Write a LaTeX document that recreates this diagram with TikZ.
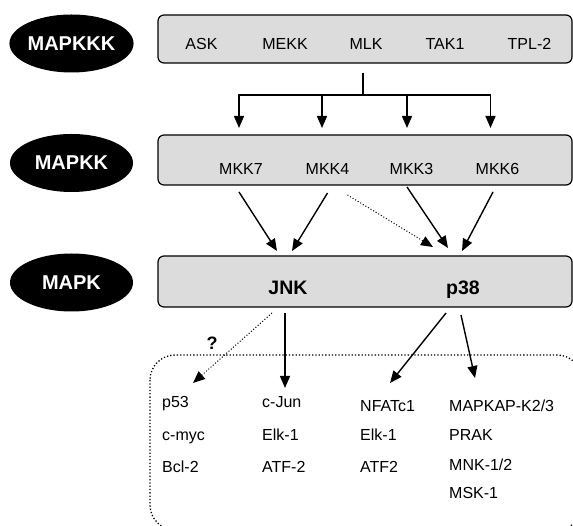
\documentclass[tikz,border=0pt]{standalone}
\usepackage{fontspec}
\setmainfont{Liberation Sans}
\usetikzlibrary{shapes.geometric, arrows.meta, positioning, calc}
\definecolor{bandgray}{RGB}{220,220,220}

\begin{document}
\begin{tikzpicture}[
  x=1pt, y=-1pt,
  node distance=32pt,
  level/.style={ellipse,fill=black,text=white,inner sep=0pt,minimum width=123pt,minimum height=58pt,font=\fontsize{20}{22}\selectfont\bfseries},
  band/.style={draw,rounded corners=6pt,fill=bandgray,line width=1.2pt,minimum width=414pt,inner sep=0pt},
  kinase/.style={anchor=base,inner sep=0pt,font=\fontsize{16}{18}\selectfont},
  mapk/.style={anchor=base,inner sep=0pt,font=\fontsize{19.5}{22}\selectfont\bfseries},
  target/.style={anchor=base west,inner sep=0pt,font=\fontsize{16}{18}\selectfont},
  link/.style={line width=1.4pt},
  arrow/.style={-{Triangle[length=12pt,width=10pt]},line width=1.4pt},
  maybe/.style={-{Triangle[length=12pt,width=10pt]},line width=1pt,dotted}
]
  \useasboundingbox (0,0) rectangle (573,526);

  % the three levels
  \node[level] (mapkkk) at (71.5,43.5) {MAPKKK};
  \node[level] (mapkk) at (71.5,163) {MAPKK};
  \node[level] (mapkl) at (71.5,282.5) {MAPK};

  \node[band,minimum height=48pt] (kkkband) at (365,39) {};
  \node[band,minimum height=50pt] (kkband) at (365,160) {};
  \node[band,minimum height=51pt] (kband) at (365,281.5) {};

  \node[kinase] (ask) at (201.5,50) {ASK};
  \node[kinase] (mekk) at (285,50) {MEKK};
  \node[kinase] (mlk) at (366,50) {MLK};
  \node[kinase] (tak) at (445,50) {TAK1};
  \node[kinase] (tpl) at (529.5,50) {TPL-2};

  \node[kinase] (mkk7) at (241,175) {MKK7};
  \node[kinase] (mkk4) at (327.5,175) {MKK4};
  \node[kinase] (mkk3) at (411.5,175) {MKK3};
  \node[kinase] (mkk6) at (497.5,175) {MKK6};

  \node[mapk] (jnk) at (288,295) {JNK};
  \node[mapk] (p38) at (463,295) {p38};

  % substrates
  \draw[dotted,line width=1.3pt,rounded corners=25pt] (150,355) rectangle (582,530);

  \node[target] (p53) at (162,408) {p53};
  \node[below=of p53.base west,target] (cmyc) {c-myc};
  \node[below=of cmyc.base west,target] (bcl) {Bcl-2};

  \node[target] (cjun) at (262,408) {c-Jun};
  \node[below=of cjun.base west,target] (elkj) {Elk-1};
  \node[below=of elkj.base west,target] (atfj) {ATF-2};

  \node[target] (nfatc1) at (360,412) {NFATc1};
  \node[below=28pt of nfatc1.base west,target] (elkp) {Elk-1};
  \node[below=of elkp.base west,target] (atfp) {ATF2};

  \node[target] (mapkap) at (449,412) {MAPKAP-K2/3};
  \node[below=28pt of mapkap.base west,target] (prak) {PRAK};
  \node[below=30pt of prak.base west,target] (mnk) {MNK-1/2};
  \node[below=28pt of mnk.base west,target] (msk) {MSK-1};

  \node[inner sep=0pt,font=\fontsize{18}{20}\selectfont\bfseries] (query) at (212,343) {?};

  % MAPKKK -> MAPKK
  \coordinate (fork) at ($(mlk.base)+(-3,45)$);
  \draw[link] ($(mlk.base)+(-3,23)$) -- (fork);
  \draw[arrow] (fork) -| ($(mkk7.base)+(-2,-47)$);
  \draw[arrow] (fork) -| ($(mkk4.base)+(-5.5,-47)$);
  \draw[arrow] (fork) -| ($(mkk3.base)+(-4.5,-47)$);
  \draw[arrow] (fork) -| ($(mkk6.base)+(-7,-47)$);

  % MAPKK -> MAPK
  \draw[arrow] ($(mkk7.base)+(-2,17)$) -- ($(jnk.base)+(-11,-44)$);
  \draw[arrow] ($(mkk4.base)+(0,18)$) -- ($(jnk.base)+(4,-44)$);
  \draw[maybe] ($(mkk4.base)+(20,20)$) -- ($(p38.base)+(-30,-48)$);
  \draw[arrow] ($(mkk3.base)+(-4.5,12)$) -- ($(p38.base)+(-15,-47)$);
  \draw[arrow] ($(mkk6.base)+(-4.5,17)$) -- ($(p38.base)+(-1,-44)$);

  % MAPK -> substrates
  \draw[maybe] ($(jnk.base)+(-16,18)$) -- ($(p53.base west)+(31,-25)$);
  \draw[arrow] ($(jnk.base)+(-3,18)$) -- ($(cjun.base west)+(23,-20)$);
  \draw[arrow] ($(p38.base)+(-17,18)$) -- ($(nfatc1.base west)+(30,-29)$);
  \draw[arrow] ($(p38.base)+(-2,20)$) -- ($(mapkap.base west)+(26,-34)$);
\end{tikzpicture}
\end{document}
